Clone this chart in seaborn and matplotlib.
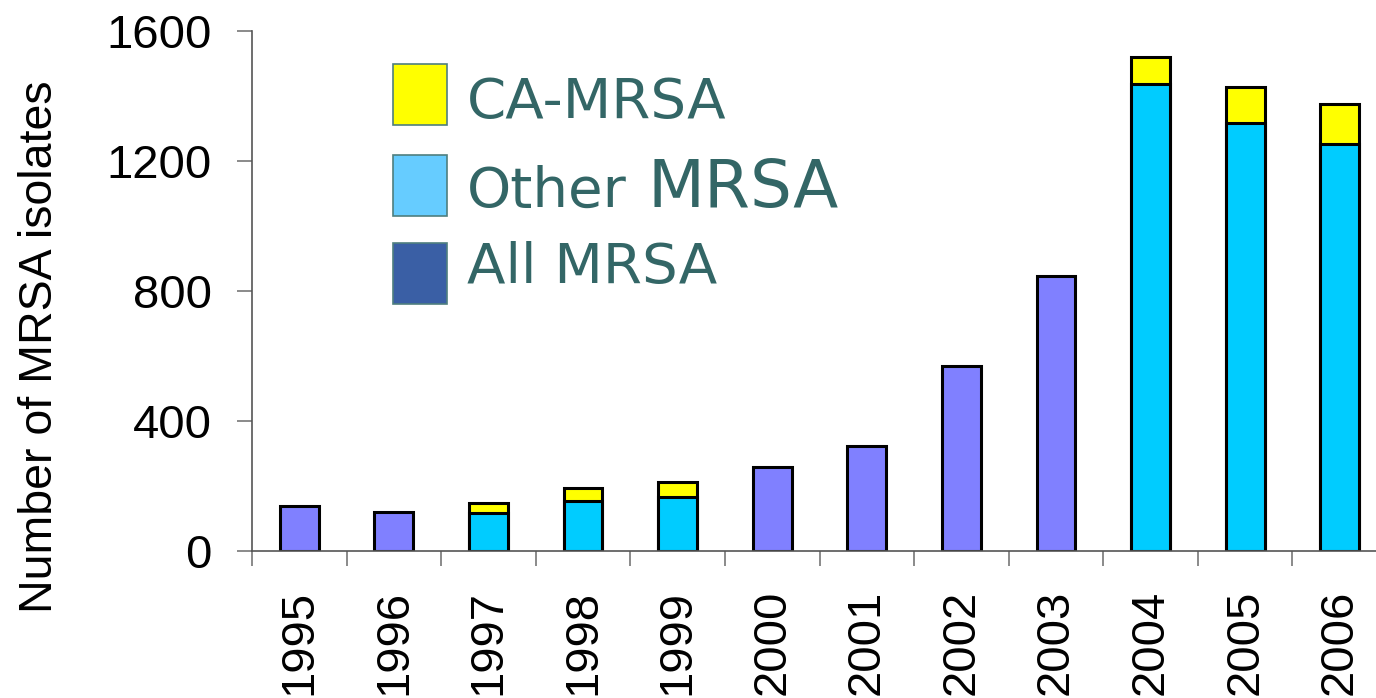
import matplotlib

matplotlib.use("Agg")

import matplotlib.pyplot as plt
import numpy as np
import pandas as pd
import seaborn as sns
from matplotlib.patches import Rectangle
from matplotlib.ticker import FixedLocator

sns.set_theme(style="white")
plt.rcParams["font.family"] = ["Liberation Sans", "DejaVu Sans"]
plt.rcParams["text.color"] = "black"
plt.rcParams["xtick.labelcolor"] = "black"
plt.rcParams["ytick.labelcolor"] = "black"

# valeurs
years = ["1995", "1996", "1997", "1998", "1999", "2000",
         "2001", "2002", "2003", "2004", "2005", "2006"]
all_mrsa = [138, 120, np.nan, np.nan, np.nan, 258, 323, 569, 846, np.nan, np.nan, np.nan]
other_mrsa = [np.nan, np.nan, 118, 155, 165, np.nan, np.nan, np.nan, np.nan, 1437, 1318, 1252]
ca_mrsa = [np.nan, np.nan, 29, 38, 46, np.nan, np.nan, np.nan, np.nan, 84, 111, 122]

legend_labels = ["CA-MRSA", "Other", "All MRSA"]
legend_colors = ["#FFFF00", "#66CCFF", "#3A5FA5"]

frame = pd.DataFrame({"year": years, "all": all_mrsa, "other": other_mrsa, "ca": ca_mrsa})
frame["total"] = frame["other"] + frame["ca"]

W, H = 1376, 698
fig = plt.figure(figsize=(W / 100, H / 100), dpi=100)
ax = fig.add_axes([252 / W, 147 / H, 1135 / W, 520 / H])

bar_kw = dict(order=years, width=0.41, saturation=1, edgecolor="black",
              linewidth=2.2, errorbar=None, ax=ax)
sns.barplot(data=frame, x="year", y="total", color="#FFFF00", **bar_kw)
sns.barplot(data=frame, x="year", y="other", color="#00CCFF", **bar_kw)
sns.barplot(data=frame, x="year", y="all", color="#8080FF", **bar_kw)

ax.set_xlim(-0.5, len(years) - 0.5)
ax.set_ylim(0, 1600)
ax.set_yticks([0, 400, 800, 1200, 1600])
ax.set_xlabel("")
ax.set_ylabel("")
for side in ["top", "right"]:
    ax.spines[side].set_visible(False)
for side in ["left", "bottom"]:
    ax.spines[side].set_color("#555555")
    ax.spines[side].set_linewidth(1.2)

ax.xaxis.set_minor_locator(FixedLocator(np.arange(-0.5, len(years), 1.0)))
ax.tick_params(axis="x", which="major", length=0, pad=28, labelsize=34,
               labelrotation=90, labelcolor="black")
ax.tick_params(axis="x", which="minor", length=11, width=1.2, color="#777777",
               direction="out", bottom=True)
ax.tick_params(axis="y", length=11, width=1.2, color="#777777", direction="out",
               left=True, pad=18, labelsize=34, labelcolor="black")
for lab in ax.get_xticklabels():
    lab.set_va("top")

fig.text(40 / W, 0.503, "Number of MRSA isolates", rotation=90, ha="center",
         va="center", fontsize=33.5, color="black")

# légende dessinée à la main (le mot MRSA de "Other MRSA" est plus grand)
leg_color = "#336666"
box_tops = [64, 155, 243]
baselines = [118, 207, 283]
for label, color, top, base in zip(legend_labels, legend_colors, box_tops, baselines):
    fig.add_artist(Rectangle((393 / W, (H - top - 61) / H), 54 / W, 61 / H,
                             transform=fig.transFigure, facecolor=color,
                             edgecolor="#4F7F7F", linewidth=1.2))
    fig.text(467 / W, (H - base) / H, label, color=leg_color, fontsize=40.5,
             family="DejaVu Sans", va="baseline", ha="left")
fig.text(647 / W, (H - baselines[1]) / H, "MRSA", color=leg_color, fontsize=47.5,
         family="DejaVu Sans", va="baseline", ha="left")

fig.savefig("out.png", dpi=100)
